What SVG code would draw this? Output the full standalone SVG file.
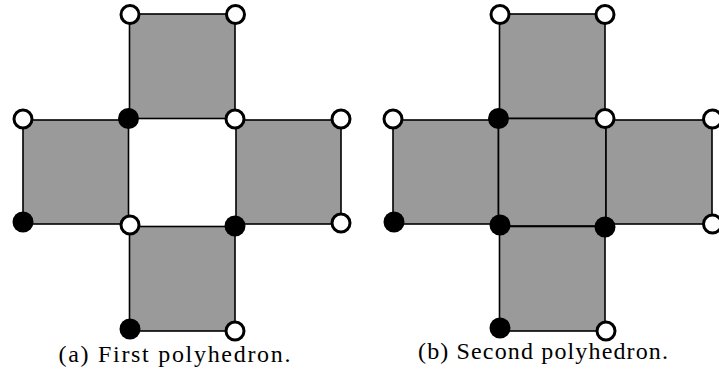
<svg xmlns="http://www.w3.org/2000/svg" width="719" height="374" viewBox="0 0 719 374">
<style>
.face{fill:#9a9a9a;stroke:#000;stroke-width:1.6}
.w{fill:#fff;stroke:#000;stroke-width:3}
.b{fill:#000}
.cap{font-family:"Liberation Serif","Times New Roman",serif;font-size:24px;fill:#000}
</style>
<rect width="719" height="374" fill="#fff"/>
<g id="panel-a">
  <g id="a-faces">
    <rect id="a-top" class="face" x="129.5" y="14" width="105.5" height="104.5"/>
    <rect id="a-left" class="face" x="23" y="120" width="105.5" height="104"/>
    <rect id="a-right" class="face" x="236" y="120" width="105" height="104"/>
    <rect id="a-bottom" class="face" x="129.5" y="226.5" width="105.5" height="104.5"/>
  </g>
  <g id="a-vertices">
    <circle class="w" cx="130" cy="14.5" r="9"/>
    <circle class="w" cx="235.5" cy="14.5" r="9"/>
    <circle class="w" cx="23" cy="119" r="9"/>
    <circle class="b" cx="128.5" cy="118.5" r="10.5"/>
    <circle class="w" cx="235" cy="119" r="9"/>
    <circle class="w" cx="341" cy="119" r="9"/>
    <circle class="b" cx="23" cy="222" r="10.5"/>
    <circle class="w" cx="130" cy="225" r="9"/>
    <circle class="b" cx="235" cy="226" r="10.5"/>
    <circle class="w" cx="341" cy="223" r="9"/>
    <circle class="b" cx="130" cy="329" r="10.5"/>
    <circle class="w" cx="235" cy="331" r="9"/>
  </g>
  <text class="cap" x="58.5" y="362" textLength="232" lengthAdjust="spacing">(a) First polyhedron.</text>
</g>
<g id="panel-b">
  <g id="b-faces">
    <rect id="b-top" class="face" x="499.5" y="14" width="105.5" height="104.5"/>
    <rect id="b-left" class="face" x="393" y="120" width="105.5" height="104"/>
    <rect id="b-center" class="face" x="498.5" y="118.5" width="107.5" height="107.5"/>
    <rect id="b-right" class="face" x="606" y="120" width="106" height="104"/>
    <rect id="b-bottom" class="face" x="499.5" y="226.5" width="105.5" height="104.5"/>
  </g>
  <g id="b-vertices">
    <circle class="w" cx="500" cy="14.5" r="9"/>
    <circle class="w" cx="605" cy="14.5" r="9"/>
    <circle class="w" cx="393" cy="119" r="9"/>
    <circle class="b" cx="498.5" cy="118.5" r="10.5"/>
    <circle class="w" cx="605" cy="118.5" r="9"/>
    <circle class="w" cx="712.5" cy="119" r="9"/>
    <circle class="b" cx="394" cy="222" r="10.5"/>
    <circle class="b" cx="500" cy="225" r="10.5"/>
    <circle class="b" cx="605" cy="227" r="10.5"/>
    <circle class="w" cx="712.5" cy="224" r="9"/>
    <circle class="b" cx="500" cy="328" r="10.5"/>
    <circle class="w" cx="606" cy="331" r="9"/>
  </g>
  <text class="cap" x="418" y="359" textLength="250" lengthAdjust="spacing">(b) Second polyhedron.</text>
</g>
</svg>
